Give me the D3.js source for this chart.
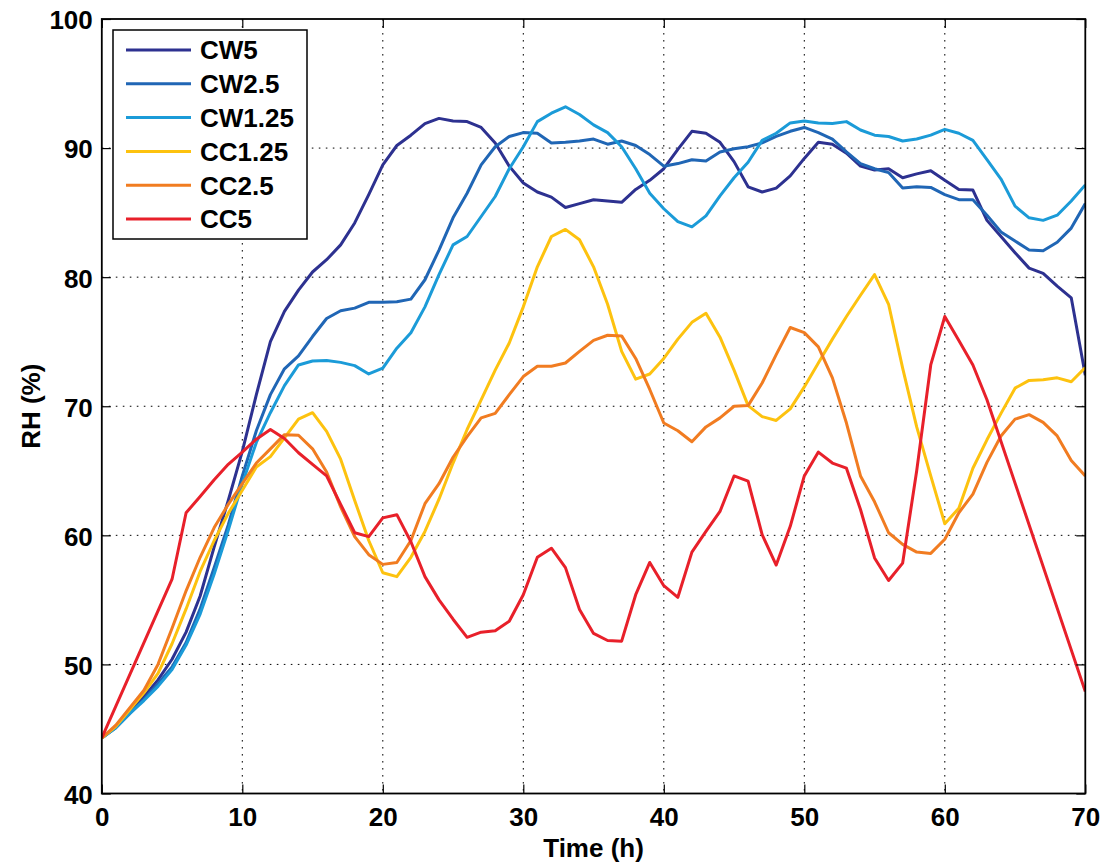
<!DOCTYPE html>
<html>
<head>
<meta charset="utf-8">
<script src="https://cdn.jsdelivr.net/npm/d3@7"></script>
<style>
  html, body { margin: 0; padding: 0; background: #fff; }
  svg { display: block; font-family: "Liberation Sans", Arial, Helvetica, sans-serif; font-weight: bold; }
</style>
</head>
<body>
<svg id="chart" width="1107" height="865"></svg>
<script>
// Sampling times (h)
const hours = d3.range(0, 71);

// Relative humidity (%) per hour; null = no sample recorded
const cw5 = [
  44.3, 45.2, 46.3, 47.5, 48.8, 50.4, 52.5, 55.3, 59.1, 62.7,
  66.5, 70.9, 75.0, 77.35, 79.0, 80.4, 81.35, 82.5, 84.2, 86.4,
  88.7, 90.2, 91.0, 91.9, 92.3, 92.1, 92.05, 91.6, 90.4, 88.6,
  87.3, 86.6, 86.2, 85.4, 85.7, 86.0, 85.9, 85.8, 86.8, 87.5,
  88.4, 89.9, 91.3, 91.15, 90.45, 88.95, 87.0, 86.6, 86.9, 87.85,
  89.2, 90.45, 90.3, 89.6, 88.6, 88.3, 88.4, 87.7, 88.0, 88.25,
  87.5, 86.8, 86.75, 84.4, 83.15, 81.9, 80.7, 80.3, 79.3, 78.4,
  72.4
];
const cw25 = [
  44.3, 45.1, 46.2, 47.3, 48.5, 49.8, 51.7, 54.3, 57.5, 60.8,
  64.6, 68.1, 70.9, 72.9, 73.9, 75.4, 76.8, 77.4, 77.6, 78.05,
  78.05, 78.1, 78.3, 79.8, 82.1, 84.6, 86.5, 88.7, 90.1, 90.9,
  91.2, 91.15, 90.4, 90.45, 90.55, 90.7, 90.3, 90.55, 90.2, 89.5,
  88.6, 88.8, 89.1, 89.0, 89.7, 89.95, 90.1, 90.4, 90.9, 91.3,
  91.6, 91.2, 90.7, 89.7, 88.8, 88.4, 88.1, 86.9, 87.0, 86.95,
  86.4, 86.0, 86.0, 84.8, 83.5, 82.8, 82.1, 82.05, 82.7, 83.8,
  85.7
];
const cw125 = [
  44.3, 45.1, 46.2, 47.2, 48.3, 49.6, 51.5, 53.9, 57.0, 60.4,
  64.0, 67.2, 69.5, 71.6, 73.2, 73.5, 73.55, 73.4, 73.15, 72.5,
  72.95, 74.5, 75.7, 77.7, 80.2, 82.5, 83.15, 84.7, 86.25, 88.4,
  90.1, 92.05, 92.7, 93.2, 92.6, 91.8, 91.2, 90.1, 88.4, 86.5,
  85.3, 84.3, 83.9, 84.75, 86.3, 87.7, 88.9, 90.6, 91.15, 91.95,
  92.1, 91.95, 91.9, 92.05, 91.4, 91.0, 90.9, 90.55, 90.7, 91.0,
  91.45, 91.15, 90.6, 89.1, 87.6, 85.5, 84.6, 84.4, 84.8, 85.9,
  87.15
];
const cc125 = [
  44.3, 45.2, 46.5, 47.8, 49.3, 51.6, 54.3, 57.2, 59.6, 61.7,
  63.5, 65.3, 66.1, 67.55, 69.0, 69.5, 68.05, 65.9, 62.7, 59.6,
  57.1, 56.8, 58.3, 60.3, 62.8, 65.6, 68.2, 70.5, 72.8, 74.9,
  77.7, 80.8, 83.15, 83.7, 82.9, 80.8, 77.9, 74.25, 72.1, 72.5,
  73.7, 75.2, 76.5, 77.2, 75.35, 72.8, 70.05, 69.2, 68.9, 69.8,
  71.5, 73.35, 75.2, 76.95, 78.6, 80.2, 77.9, 72.95, 68.4, 64.6,
  60.9, 62.1, 65.2, 67.4, 69.45, 71.4, 72.0, 72.05, 72.2, 71.9,
  73.0
];
const cc25 = [
  44.3, 45.3, 46.65, 48.0, 50.0, 52.8, 55.7, 58.3, 60.6, 62.4,
  64.0, 65.6, 66.7, 67.8, 67.75, 66.7, 64.9, 62.2, 59.9, 58.5,
  57.75, 57.9, 59.6, 62.45, 64.0, 66.05, 67.65, 69.1, 69.45, 70.9,
  72.3, 73.1, 73.1, 73.35, 74.25, 75.1, 75.5, 75.45, 73.7, 71.3,
  68.7, 68.1, 67.25, 68.4, 69.1, 70.0, 70.05, 71.8, 74.0, 76.1,
  75.7, 74.6, 72.2, 68.7, 64.6, 62.6, 60.2, 59.3, 58.7, 58.6,
  59.7, 61.75, 63.2, 65.65, 67.7, 69.0, 69.35, 68.75, 67.7, 65.8,
  64.6
];
const cc5 = [
  44.3, null, null, null, null, 56.6, 61.75, 63.0, 64.3, 65.5,
  66.45, 67.45, 68.2, 67.5, 66.4, 65.5, 64.6, 62.4, 60.2, 59.9,
  61.35, 61.6, 59.5, 56.8, 55.0, 53.5, 52.1, 52.5, 52.6, 53.35,
  55.4, 58.3, 59.0, 57.5, 54.25, 52.4, 51.85, 51.8, 55.4, 57.9,
  56.1, 55.2, 58.7, 60.3, 61.85, 64.6, 64.2, 60.05, 57.7, 60.7,
  64.6, 66.45, 65.6, 65.2, 62.0, 58.25, 56.5, 57.85, 65.0, 73.2,
  76.95, 75.1, 73.2, 70.5, null, null, null, null, null, null,
  47.9
];

const seriesNames = ["CW5", "CW2.5", "CW1.25", "CC1.25", "CC2.5", "CC5"];
const seriesValues = [cw5, cw25, cw125, cc125, cc25, cc5];
const seriesColors = ["#2d3190", "#2066b5", "#1b9bd8", "#fdc20f", "#f17c21", "#e8202a"];

const xTicks = [0, 10, 20, 30, 40, 50, 60, 70];
const yTicks = [40, 50, 60, 70, 80, 90, 100];
const xTitle = "Time (h)";
const yTitle = "RH (%)";

// ---- layout ----
const plot = { left: 101.8, right: 1085.3, top: 19, bottom: 793.5 };
const FONT = 26;

const svg = d3.select("#chart");
svg.append("rect").attr("width", 1107).attr("height", 865).attr("fill", "#fff");

const x = d3.scaleLinear().domain([0, 70]).range([plot.left, plot.right]);
const y = d3.scaleLinear().domain([40, 100]).range([plot.bottom, plot.top]);

// dotted grid
const grid = svg.append("g").attr("stroke", "#000").attr("stroke-width", 1)
  .attr("stroke-dasharray", "1.6,5.4").attr("fill", "none");
grid.selectAll("line.gx").data(xTicks.slice(1, -1)).join("line")
  .attr("x1", d => x(d)).attr("x2", d => x(d))
  .attr("y1", plot.top).attr("y2", plot.bottom);
grid.selectAll("line.gy").data(yTicks.slice(1, -1)).join("line")
  .attr("x1", plot.left).attr("x2", plot.right)
  .attr("y1", d => y(d)).attr("y2", d => y(d));

// clip for the data lines
svg.append("clipPath").attr("id", "plot-clip").append("rect")
  .attr("x", plot.left).attr("y", plot.top)
  .attr("width", plot.right - plot.left).attr("height", plot.bottom - plot.top);

const line = d3.line().x(d => x(d.t)).y(d => y(d.v));
const linesG = svg.append("g").attr("clip-path", "url(#plot-clip)");
seriesValues.forEach((vals, i) => {
  const pts = hours.map((t, k) => ({ t, v: vals[k] })).filter(d => d.v != null);
  linesG.append("path").datum(pts)
    .attr("fill", "none")
    .attr("stroke", seriesColors[i])
    .attr("stroke-width", 3)
    .attr("stroke-linejoin", "round")
    .attr("d", line);
});

// axes: inward ticks on all four sides
const TICK = 9;
function styleAxis(g) {
  g.select(".domain").remove();
  g.selectAll(".tick line").attr("stroke", "#000").attr("stroke-width", 1.2);
  g.selectAll("text").attr("fill", "#000")
    .style("font-size", FONT + "px").style("font-weight", "bold")
    .style("font-family", '"Liberation Sans", Arial, Helvetica, sans-serif');
}
svg.append("g").attr("transform", `translate(0,${plot.bottom})`)
  .call(d3.axisBottom(x).tickValues(xTicks).tickSizeInner(-TICK).tickSizeOuter(0).tickPadding(14).tickFormat(d3.format("d")))
  .call(styleAxis);
svg.append("g").attr("transform", `translate(${plot.left},0)`)
  .call(d3.axisLeft(y).tickValues(yTicks).tickSizeInner(-TICK).tickSizeOuter(0).tickPadding(9).tickFormat(d3.format("d")))
  .call(styleAxis)
  .selectAll("text").attr("dy", "0.38em");
svg.append("g").attr("transform", `translate(0,${plot.top})`)
  .call(d3.axisTop(x).tickValues(xTicks).tickSizeInner(-TICK).tickSizeOuter(0).tickFormat(""))
  .call(styleAxis);
svg.append("g").attr("transform", `translate(${plot.right},0)`)
  .call(d3.axisRight(y).tickValues(yTicks).tickSizeInner(-TICK).tickSizeOuter(0).tickFormat(""))
  .call(styleAxis);

// frame
svg.append("rect")
  .attr("x", plot.left).attr("y", plot.top)
  .attr("width", plot.right - plot.left).attr("height", plot.bottom - plot.top)
  .attr("fill", "none").attr("stroke", "#000").attr("stroke-width", 1.8);

// axis titles
svg.append("text").attr("x", (plot.left + plot.right) / 2).attr("y", 857)
  .attr("text-anchor", "middle").style("font-size", FONT + "px").text(xTitle);
svg.append("text").attr("transform", `translate(39.5,${(plot.top + plot.bottom) / 2}) rotate(-90)`)
  .attr("text-anchor", "middle").style("font-size", FONT + "px").text(yTitle);

// legend
const leg = svg.append("g");
leg.append("rect").attr("x", 113).attr("y", 30).attr("width", 194).attr("height", 209)
  .attr("fill", "#fff").attr("stroke", "#000").attr("stroke-width", 1.5);
const rowY = d3.scaleLinear().domain([0, 5]).range([50, 219]);
seriesNames.forEach((name, i) => {
  const yy = rowY(i);
  leg.append("line").attr("x1", 126).attr("x2", 191).attr("y1", yy).attr("y2", yy)
    .attr("stroke", seriesColors[i]).attr("stroke-width", 3);
  leg.append("text").attr("x", 200).attr("y", yy + 9.3)
    .style("font-size", FONT + "px").text(name);
});
</script>
</body>
</html>
